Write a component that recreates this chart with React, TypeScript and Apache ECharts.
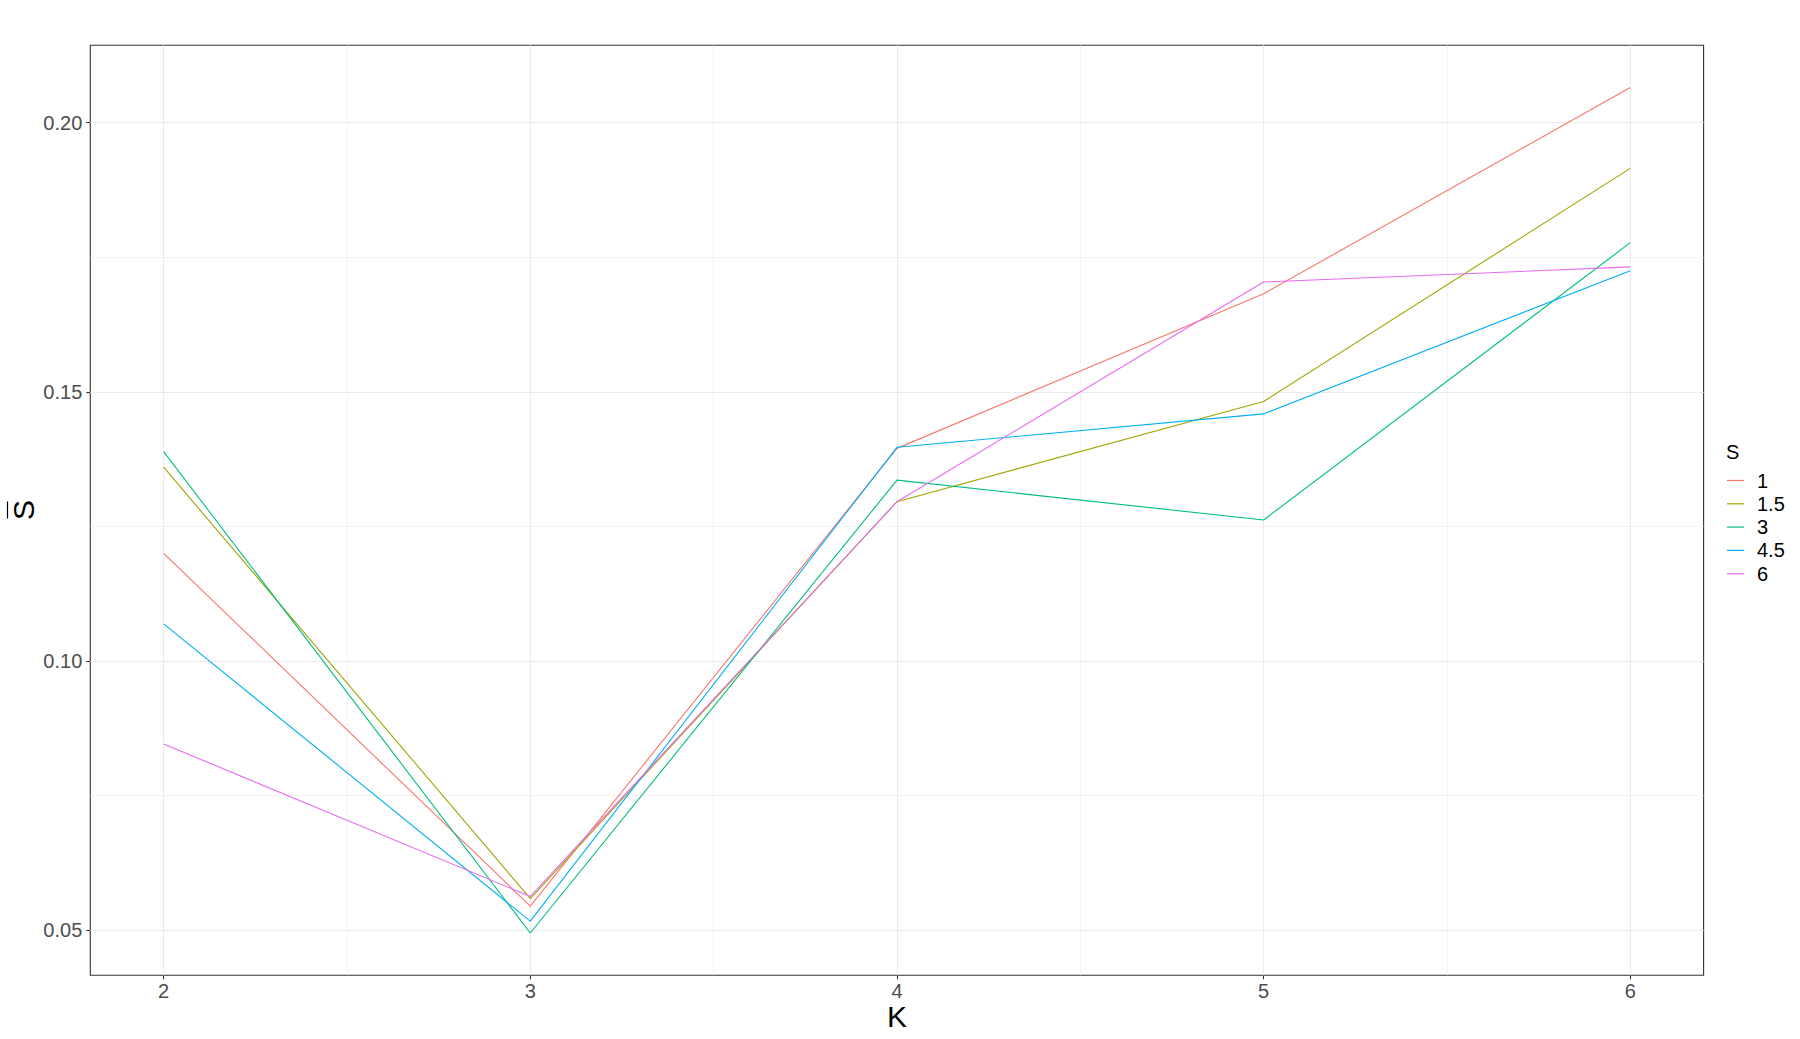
import React, { useEffect, useRef } from "react";
import * as echarts from "echarts";

const K = [2, 3, 4, 5, 6];
const seriesNames = ["1", "1.5", "3", "4.5", "6"];
const s1 = [0.12, 0.0545, 0.1395, 0.1682, 0.2065];
const s15 = [0.136, 0.0559, 0.1296, 0.1482, 0.1915];
const s3 = [0.1389, 0.0495, 0.1336, 0.1262, 0.1777];
const s45 = [0.1069, 0.0517, 0.1397, 0.1459, 0.1725];
const s6 = [0.0846, 0.0563, 0.1296, 0.1704, 0.1732];
const seriesValues = [s1, s15, s3, s45, s6];
const colors = ["#F8766D", "#A3A500", "#00BF7D", "#00B0F6", "#E76BF3"];

const xMajor = [2, 3, 4, 5, 6];
const xMinor = [2.5, 3.5, 4.5, 5.5];
const yMajor = [0.05, 0.1, 0.15, 0.2];
const yMinor = [0.075, 0.125, 0.175];

export default function App() {
  const ref = useRef<HTMLDivElement>(null);
  useEffect(() => {
    if (!ref.current) return;
    const chart = echarts.init(ref.current, null, { renderer: "svg" });
    const W = 1800, H = 1039;
    // panel
    const L = 90.3, T = 45.3, PW = 1613.3, PH = 930;
    const allY = seriesValues.flat();
    const yLo = Math.min(...allY), yHi = Math.max(...allY);
    const yR = yHi - yLo;
    const yMin = yLo - 0.05 * yR, yMax = yHi + 0.05 * yR;
    const xLo = Math.min(...K), xHi = Math.max(...K);
    const xR = xHi - xLo;
    const xMin = xLo - 0.05 * xR, xMax = xHi + 0.05 * xR;
    const xpx = (v: number) => L + ((v - xMin) / (xMax - xMin)) * PW;
    const ypx = (v: number) => T + PH - ((v - yMin) / (yMax - yMin)) * PH;
    const g1Left = xpx(xMajor[0]);
    const g1Right = W - xpx(xMajor[xMajor.length - 1]);
    const g1Top = ypx(yMajor[yMajor.length - 1]);
    const g1Bottom = H - ypx(yMajor[0]);

    const gridLine = (w: number, c: string) => ({ color: c, width: w, type: "solid" as const });
    const markData: any[] = [];
    xMinor.forEach((v) => markData.push({ xAxis: v, lineStyle: gridLine(0.6, "#EBEBEB") }));
    yMinor.forEach((v) => markData.push({ yAxis: v, lineStyle: gridLine(0.6, "#EBEBEB") }));
    xMajor.forEach((v) => markData.push({ xAxis: v, lineStyle: gridLine(1.1, "#EBEBEB") }));
    yMajor.forEach((v) => markData.push({ yAxis: v, lineStyle: gridLine(1.1, "#EBEBEB") }));

    const font = "Liberation Sans, Arial, sans-serif";
    const option: any = {
      animation: false,
      backgroundColor: "#ffffff",
      textStyle: { fontFamily: font },
      grid: [
        { left: L, top: T, width: PW, height: PH, show: true, borderColor: "#333333", borderWidth: 1.1, backgroundColor: "transparent", z: 3 },
        { left: g1Left, right: g1Right, top: g1Top, bottom: g1Bottom, show: false },
      ],
      xAxis: [
        { type: "value", gridIndex: 0, min: xMin, max: xMax, show: false, splitLine: { show: false } },
        {
          type: "value", gridIndex: 1, min: xMajor[0], max: xMajor[xMajor.length - 1], interval: 1,
          offset: T + PH - ypx(yMajor[0]),
          axisLine: { show: false },
          axisTick: { show: true, length: 4, lineStyle: { color: "#333333", width: 1.1 } },
          axisLabel: { color: "#4D4D4D", fontSize: 20, margin: 6, fontFamily: font },
          splitLine: { show: false },
        },
      ],
      yAxis: [
        { type: "value", gridIndex: 0, min: yMin, max: yMax, show: false, splitLine: { show: false } },
        {
          type: "value", gridIndex: 1, min: yMajor[0], max: yMajor[yMajor.length - 1], interval: 0.05,
          offset: xpx(xMajor[0]) - L,
          axisLine: { show: false },
          axisTick: { show: true, length: 4, lineStyle: { color: "#333333", width: 1.1 } },
          axisLabel: { color: "#4D4D4D", fontSize: 20, margin: 8, formatter: (v: number) => v.toFixed(2), fontFamily: font },
          splitLine: { show: false },
        },
      ],
      legend: {
        orient: "vertical",
        left: 1727,
        top: 470.5,
        padding: 0,
        itemWidth: 17,
        itemHeight: 14,
        itemGap: 3.3,
        icon: "path://M0,0L17,0L17,1.2L0,1.2Z",
        symbolKeepAspect: true,
        data: seriesNames,
        textStyle: { color: "#000000", fontSize: 20, padding: [0, 0, 0, 8], fontFamily: font },
      },
      graphic: [
        { type: "text", left: 1726, top: 442, style: { text: "S", fill: "#000000", font: "20px " + font } },
        { type: "text", x: 897, y: 1016, style: { text: "K", fill: "#000000", align: "center", verticalAlign: "middle", font: "30px " + font } },
        {
          type: "group", x: 23, y: 510, rotation: Math.PI / 2,
          children: [
            { type: "text", x: 0, y: 0, style: { text: "S", fill: "#000000", align: "center", verticalAlign: "middle", font: "30px " + font } },
            { type: "line", shape: { x1: -8.5, y1: -15.5, x2: 8.5, y2: -15.5 }, style: { stroke: "#000000", lineWidth: 1.2 } },
          ],
        },
      ],
      series: [
        {
          type: "line", name: "__grid", xAxisIndex: 0, yAxisIndex: 0, data: [], z: 1, silent: true,
          markLine: { silent: true, symbol: "none", precision: 6, label: { show: false }, data: markData, animation: false },
        },
        ...seriesNames.map((n, i) => ({
          type: "line", name: n, xAxisIndex: 0, yAxisIndex: 0,
          data: K.map((k, j) => [k, seriesValues[i][j]]),
          symbol: "none", showSymbol: false, z: 5,
          lineStyle: { color: colors[i], width: 1.1 },
          itemStyle: { color: colors[i] },
          emphasis: { disabled: true },
        })),
      ],
    };
    chart.setOption(option);
    return () => chart.dispose();
  }, []);
  return <div ref={ref} style={{ position: "absolute", left: 0, top: 0, width: 1800, height: 1039, background: "#fff" }} />;
}
